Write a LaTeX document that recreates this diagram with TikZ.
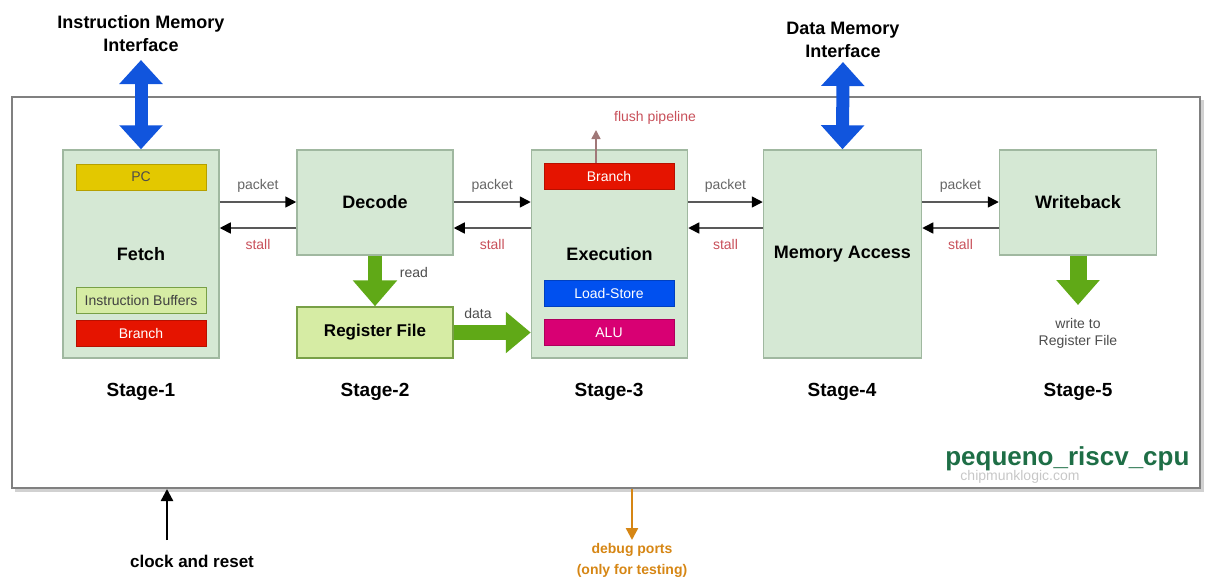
\documentclass[tikz,border=0pt]{standalone}
\usepackage{fontspec}
\setmainfont{Liberation Sans}
\usetikzlibrary{arrows.meta}
\definecolor{cpuBox}{RGB}{213,232,212}
\definecolor{cpuEdge}{RGB}{160,184,160}
\definecolor{regFill}{RGB}{214,236,164}
\definecolor{regEdge}{RGB}{120,160,70}
\definecolor{pcY}{RGB}{227,200,0}
\definecolor{brR}{RGB}{229,20,0}
\definecolor{lsB}{RGB}{0,80,239}
\definecolor{aluM}{RGB}{216,0,115}
\definecolor{busB}{RGB}{17,85,221}
\definecolor{wrG}{RGB}{96,169,23}
\definecolor{stallR}{RGB}{200,80,90}
\definecolor{flushM}{RGB}{160,120,120}
\definecolor{dbgO}{RGB}{214,134,20}
\definecolor{cpuG}{RGB}{30,110,70}

\begin{document}
\begin{tikzpicture}[x=1pt,y=-1pt,
  stagebox/.style={draw=cpuEdge,fill=cpuBox,line width=1.5pt,minimum width=156pt,inner sep=0pt,font=\bfseries\fontsize{18}{21}\selectfont},
  subbar/.style={minimum width=130pt,minimum height=26pt,inner sep=0pt,line width=1pt,font=\fontsize{14}{16}\selectfont},
  lnk/.style={draw=black!65,line width=1.6pt,-{Triangle[length=11pt,width=11pt,color=black]}},
  pk/.style={font=\fontsize{14}{17}\selectfont,text=black!60},
  st/.style={font=\fontsize{14}{17}\selectfont,text=stallR},
  busarrow/.style={busB,line width=13pt,{Triangle[width=42pt,length=24pt]}-{Triangle[width=42pt,length=24pt]}},
  fatarrow/.style={wrG,line width=14pt,-{Triangle[width=43pt,length=26pt]}},
  heading/.style={font=\bfseries\fontsize{18}{23}\selectfont,align=center}]
\useasboundingbox (0,0) rectangle (1208,582);
% outer cpu boundary
\draw[black!18,line width=3pt] (15,490) -- (1202,490) -- (1202,100);
\node[draw=black!50,line width=2pt,minimum width=1188pt,minimum height=391pt] (cpu) at (606,292.5) {};

% pipeline stages
\node[stagebox,minimum height=208pt] (fetch) at (141,254) {Fetch};
\node[stagebox,minimum height=105pt] (decode) at (375,202.5) {Decode};
\node[stagebox,minimum height=51pt,fill=regFill,draw=regEdge,font=\bfseries\fontsize{17}{20}\selectfont] (regfile) at (375,332.5) {Register File};
\node[stagebox,minimum height=208pt] (execu) at (609.5,254) {Execution};
\node[stagebox,minimum height=208pt,minimum width=158pt] (memacc) at (842.5,254) {Memory Access};
\node[stagebox,minimum height=105pt,minimum width=157pt] (wback) at (1078,202.5) {Writeback};

% sub blocks
\node[subbar,fill=pcY,draw=pcY!80!black,text=black!70] (pc) at (141,177) {PC};
\node[subbar,fill=regFill,draw=regEdge,text=black!75] (ibuf) at (141,300) {Instruction Buffers};
\node[subbar,fill=brR,draw=brR!80!black,text=white] (brf) at (141,333.5) {Branch};
\node[subbar,fill=brR,draw=brR!80!black,text=white] (brx) at (609,176.5) {Branch};
\node[subbar,fill=lsB,draw=lsB!80!black,text=white] (ldst) at (609,293.5) {Load-Store};
\node[subbar,fill=aluM,draw=aluM!80!black,text=white] (alu) at (609,332.5) {ALU};

% stage labels
\foreach \sx/\sn in {141/1,375/2,609/3,842/4,1078/5}
  \node[font=\bfseries\fontsize{19}{22}\selectfont] (stage\sn) at (\sx,392) {Stage-\sn};

% packet and stall handshakes
\coordinate (pky) at (0,202);
\coordinate (sty) at (0,228);
\foreach \a/\b in {fetch/decode,decode/execu,execu/memacc,memacc/wback}{
  \draw[lnk] (\a.east |- pky) -- node[above=5pt,pk]{packet} (\b.west |- pky);
  \draw[lnk] (\b.west |- sty) -- node[below=7pt,st]{stall} (\a.east |- sty);
}

% memory interfaces
\node[heading] (imemif) at (141,34) {Instruction Memory\\Interface};
\node[heading] (dmemif) at (843,40) {Data Memory\\Interface};
\coordinate (imemtop) at (141,60);
\coordinate (dmemtop) at (843,62);
\draw[busarrow] (imemtop) -- (fetch.north);
\draw[busarrow] (dmemtop) -- (memacc.north);

% register file traffic
\draw[fatarrow] (decode.south) -- (regfile.north);
\node[pk,text=black!70] (readlbl) at (414,272) {read};
\draw[fatarrow,line width=15pt,-{Triangle[width=40pt,length=25pt]}] (regfile.east) -- (execu.west |- regfile.east);
\node[pk,text=black!70] (datalbl) at (478,313) {data};
\coordinate (wbend) at (1078,305);
\draw[fatarrow,line width=17pt,-{Triangle[width=42pt,length=25pt]}] (wback.south) -- (wbend);
\node[pk,text=black!70,align=center] (wblbl) at (1078,333) {write to\\Register File};

% flush
\coordinate (flushend) at (596,130);
\draw[flushM,line width=1.5pt,-{Triangle[length=9pt,width=9pt]}] (brx.north -| flushend) -- (flushend);
\node[st] (flushlbl) at (655,118) {flush pipeline};

% name and watermark
\node[anchor=east,text=cpuG,font=\bfseries\fontsize{26}{29}\selectfont] (cpuname) at (1193,459) {pequeno\_riscv\_cpu};
\node[text=black!22,font=\fontsize{14}{16}\selectfont] (wmark) at (1020,477) {chipmunklogic.com};

% clock and debug
\coordinate (clkin) at (167,540);
\draw[line width=2.4pt,-{Triangle[length=12pt,width=12pt]}] (clkin) -- (clkin |- cpu.south);
\node[font=\bfseries\fontsize{17}{20}\selectfont] (clklbl) at (192,561) {clock and reset};
\coordinate (dbgout) at (632,540);
\draw[dbgO,line width=2.4pt,-{Triangle[length=12pt,width=12pt]}] (dbgout |- cpu.south) -- (dbgout);
\node[font=\bfseries\fontsize{14}{21}\selectfont,text=dbgO,align=center] (dbglbl) at (632,560) {debug ports\\(only for testing)};
\end{tikzpicture}
\end{document}
